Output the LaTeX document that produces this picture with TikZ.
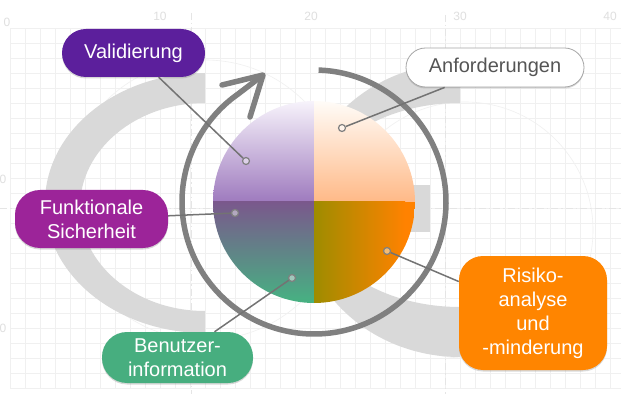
\documentclass[tikz,border=0pt]{standalone}
\usepackage{fontspec}
\setmainfont{Liberation Sans}
\usetikzlibrary{positioning,shadows}
\usepackage{xcolor}
\definecolor{ringgray}{RGB}{128,128,128}
\definecolor{logogray}{RGB}{217,217,217}
\definecolor{gridgray}{RGB}{240,240,240}
\definecolor{valcol}{RGB}{92,31,156}
\definecolor{funkcol}{RGB}{156,36,153}
\definecolor{benucol}{RGB}{71,174,127}
\definecolor{riskcol}{RGB}{255,133,0}
\definecolor{anftext}{RGB}{85,85,85}
\definecolor{lavtop}{RGB}{247,243,251}
\definecolor{lavbot}{RGB}{158,122,190}
\definecolor{peachtop}{RGB}{255,252,248}
\definecolor{peachbot}{RGB}{255,185,135}
\definecolor{plumtop}{RGB}{122,88,140}
\definecolor{greenbot}{RGB}{70,178,130}
\definecolor{olivecol}{RGB}{158,140,0}
\definecolor{orangecol}{RGB}{255,130,0}

\begin{document}
\begin{tikzpicture}[x=1pt,y=1pt,
    labelbox/.style={rounded corners=#1,text=white,align=center,inner sep=0pt,
        font=\fontsize{20}{24}\selectfont,
        drop shadow={shadow xshift=0pt,shadow yshift=-1.5pt,opacity=.3}},
    leaderdot/.style={circle,draw=ringgray,line width=1.2pt,inner sep=0pt,
        minimum size=7pt,fill=white,fill opacity=.45},
    leaderline/.style={draw=ringgray!90!black,line width=1.5pt},
    guideline/.style={draw=gray!20,line width=.7pt,dash pattern=on 7pt off 3pt on 1.5pt off 3pt},
    rulertext/.style={text=gray!25,font=\fontsize{12}{12}\selectfont,inner sep=0pt},
    cyclearrow/.style={draw=ringgray,line width=5.5pt,line cap=round,line join=round}]
\useasboundingbox (0,0) rectangle (621,394);
\fill[white] (0,0) rectangle (621,394);

% background sheet
\begin{scope}[shift={(10,6)}]
    \draw[gridgray,line width=.6pt] (0,0) grid[step=15pt] (611,360);
\end{scope}
\foreach \n/\xx in {10/160,20/311,30/460,40/610}
    \node[rulertext] (r\n) at (\xx,378) {\n};
\node[rulertext] (r0) at (7,372) {0};
\node[rulertext] (s1) at (3,215) {0};
\node[rulertext] (s2) at (3,66) {0};
\draw[guideline] (191,381) -- (191,0);
\draw[guideline] (445,379) -- (445,0);
\draw[guideline] (0,186) -- (621,186);
\draw[gray!12,line width=.6pt] (465,164) circle[radius=128];
\draw[gray!12,line width=.6pt] (205,194) circle[radius=140];

% logo
\begin{scope}
    \clip (0,0) rectangle (205,394);
    \fill[logogray,even odd rule] (205,191) ellipse[x radius=160,y radius=130]
        (205,187) ellipse[x radius=125,y radius=104];
\end{scope}
\begin{scope}
    \clip (0,0) rectangle (460,394);
    \fill[logogray,even odd rule] (460,184) ellipse[x radius=160,y radius=147]
        (460,189) ellipse[x radius=148,y radius=102];
\end{scope}
\fill[logogray] (395,162) rectangle (430,209);

% cycle arrow
\coordinate (tip) at (263,319);
\coordinate (barbl) at (222,309);
\coordinate (barbr) at (250,277);
\draw[cyclearrow,line cap=butt] (314,192) ++(88:132)
    arc[start angle=88,end angle=-235,radius=132] -- (tip);
\draw[cyclearrow] (barbl) -- (tip) -- (barbr);

% pie
\begin{scope}
    \clip (314,192) circle[radius=101];
    \shade[top color=lavtop,bottom color=lavbot] (213,192) rectangle (314,293);
    \shade[top color=peachtop,bottom color=peachbot] (314,192) rectangle (415,293);
    \shade[top color=plumtop,bottom color=greenbot] (213,91) rectangle (314,192);
    \shade[left color=olivecol,right color=orangecol] (314,91) rectangle (405,192);
    \fill[orangecol] (405,91) rectangle (415,192);
\end{scope}

\node[leaderdot] (valdot) at (246,233) {};
\node[leaderdot] (anfdot) at (342,266) {};
\node[leaderdot] (funkdot) at (235,181) {};
\node[leaderdot] (benudot) at (292,116) {};
\node[leaderdot] (riskdot) at (387,143) {};

\node[labelbox=24pt,fill=valcol,minimum width=143pt,minimum height=48pt]
    (val) at (133.5,341) {Validierung};
\node[labelbox=19.5pt,fill=white,draw=gray!70,line width=.8pt,text=anftext,
    minimum width=178pt,minimum height=39pt] (anf) at (495,326.5) {Anforderungen};
\node[labelbox=25pt,fill=funkcol,minimum width=153pt,minimum height=58pt]
    (funk) at (91.5,175) {Funktionale\\Sicherheit};
\node[labelbox=25pt,fill=benucol,minimum width=151pt,minimum height=51pt]
    (benu) at (177.5,36.5) {Benutzer-\\information};
\node[labelbox=24pt,fill=riskcol,minimum width=148pt,minimum height=114pt]
    (risk) at (533,81) {Risiko-\\analyse\\und\\-minderung};

\draw[leaderline] (valdot) -- (val);
\draw[leaderline] (anfdot) -- (anf);
\draw[leaderline] (funkdot) -- (funk);
\draw[leaderline] (benudot) -- (benu);
\draw[leaderline] (riskdot) -- (risk);
\end{tikzpicture}
\end{document}
